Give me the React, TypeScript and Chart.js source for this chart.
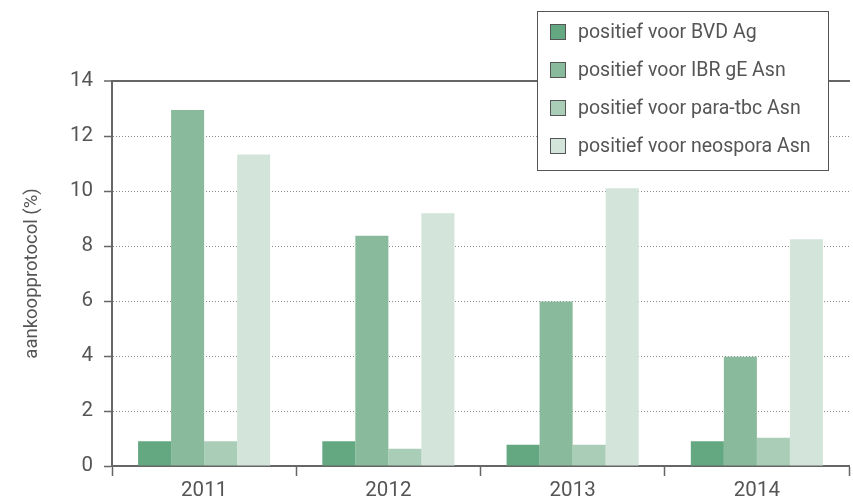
import React, { useEffect, useRef } from "react";
import { Chart, registerables } from "chart.js";

Chart.register(...registerables);

const years = ["2011", "2012", "2013", "2014"];
const seriesNames = [
  "positief voor BVD Ag",
  "positief voor IBR gE Asn",
  "positief voor para-tbc Asn",
  "positief voor neospora Asn",
];
const bvdAg = [0.9, 0.9, 0.77, 0.9];
const ibrGeAsn = [12.95, 8.37, 5.98, 3.97];
const paraTbcAsn = [0.9, 0.63, 0.77, 1.03];
const neosporaAsn = [11.33, 9.19, 10.1, 8.25];
const yMin = 0;
const yMax = 14;
const yStep = 2;
const yTitle = "aankoopprotocol (%)";

const seriesColors = ["#64a882", "#88ba9b", "#aacdb8", "#d3e5da"];
const FONT = "Roboto, 'Noto Sans', sans-serif";
const TEXT = "#555555";
const AXIS = "#666666";

const boxLegend = {
  id: "boxLegend",
  afterDraw(chart: any) {
    const ctx = chart.ctx;
    const ds = chart.data.datasets;
    const x0 = 537.5;
    const y0 = 11.5;
    const w = 291;
    const h = 159;
    const rowGap = 38;
    const firstRow = 32;
    ctx.save();
    ctx.fillStyle = "#ffffff";
    ctx.fillRect(x0, y0, w, h);
    ctx.strokeStyle = "#555555";
    ctx.lineWidth = 1;
    ctx.strokeRect(x0, y0, w, h);
    ctx.font = `19.5px ${FONT}`;
    ctx.textBaseline = "middle";
    ctx.textAlign = "left";
    ds.forEach((d: any, i: number) => {
      const cy = firstRow + i * rowGap;
      ctx.fillStyle = d.backgroundColor;
      ctx.fillRect(550.5, cy - 7.5, 15, 15);
      ctx.strokeStyle = "#555555";
      ctx.lineWidth = 1;
      ctx.strokeRect(550.5, cy - 7.5, 15, 15);
      ctx.fillStyle = TEXT;
      ctx.fillText(d.label, 578, cy + 1);
    });
    ctx.restore();
  },
};

export default function App() {
  const canvasRef = useRef<HTMLCanvasElement | null>(null);

  useEffect(() => {
    if (!canvasRef.current) return;
    const values = [bvdAg, ibrGeAsn, paraTbcAsn, neosporaAsn];
    const chart = new Chart(canvasRef.current, {
      type: "bar",
      data: {
        labels: years,
        datasets: values.map((v, i) => ({
          label: seriesNames[i],
          data: v,
          backgroundColor: seriesColors[i],
          borderWidth: 0,
          categoryPercentage: 0.717,
          barPercentage: 1.0,
        })),
      },
      options: {
        animation: false,
        responsive: true,
        maintainAspectRatio: false,
        layout: { padding: { top: 81, right: 4, left: 0, bottom: 0 } },
        plugins: {
          legend: { display: false },
          tooltip: { enabled: false },
          title: { display: false },
        },
        scales: {
          x: {
            position: "bottom",
            grid: {
              offset: true,
              drawOnChartArea: false,
              drawTicks: true,
              tickLength: 10,
              tickColor: AXIS,
              tickWidth: 1.5,
            },
            border: { display: true, color: AXIS, width: 2 },
            ticks: {
              color: TEXT,
              font: { family: FONT, size: 20.5 },
              padding: 3,
            },
            afterFit: (s: any) => {
              s.height = 35;
            },
          },
          xTop: {
            type: "category",
            position: "top",
            labels: years,
            grid: { display: false, drawTicks: false },
            border: { display: true, color: AXIS, width: 2 },
            ticks: { display: false },
            afterFit: (s: any) => {
              s.height = 0;
            },
          },
          y: {
            min: yMin,
            max: yMax,
            ticks: {
              stepSize: yStep,
              color: TEXT,
              font: { family: FONT, size: 20.5 },
              padding: 11,
            },
            grid: {
              drawTicks: true,
              tickLength: 8,
              tickColor: AXIS,
              tickWidth: 1.5,
              color: (c: any) =>
                c.tick && c.tick.value === yMin ? "rgba(0,0,0,0)" : c.tick && c.tick.value === yMax ? AXIS : "#8a8a8a",
              lineWidth: (c: any) => (c.tick && c.tick.value === yMax ? 2 : 1),
            },
            border: {
              display: true,
              color: AXIS,
              width: 2,
              dash: (c: any) => (c.tick && c.tick.value === yMax ? [] : [1, 2]),
            },
            title: {
              display: true,
              text: yTitle,
              color: TEXT,
              font: { family: FONT, size: 18.5 },
              padding: { top: 21, bottom: 0 },
            },
            afterFit: (s: any) => {
              s.width = 112;
            },
          },
        },
      },
      plugins: [boxLegend],
    } as any);
    return () => chart.destroy();
  }, []);

  return (
    <div style={{ position: "fixed", left: 0, top: 0, width: 853, height: 501, background: "#ffffff" }}>
      <canvas ref={canvasRef} />
    </div>
  );
}
